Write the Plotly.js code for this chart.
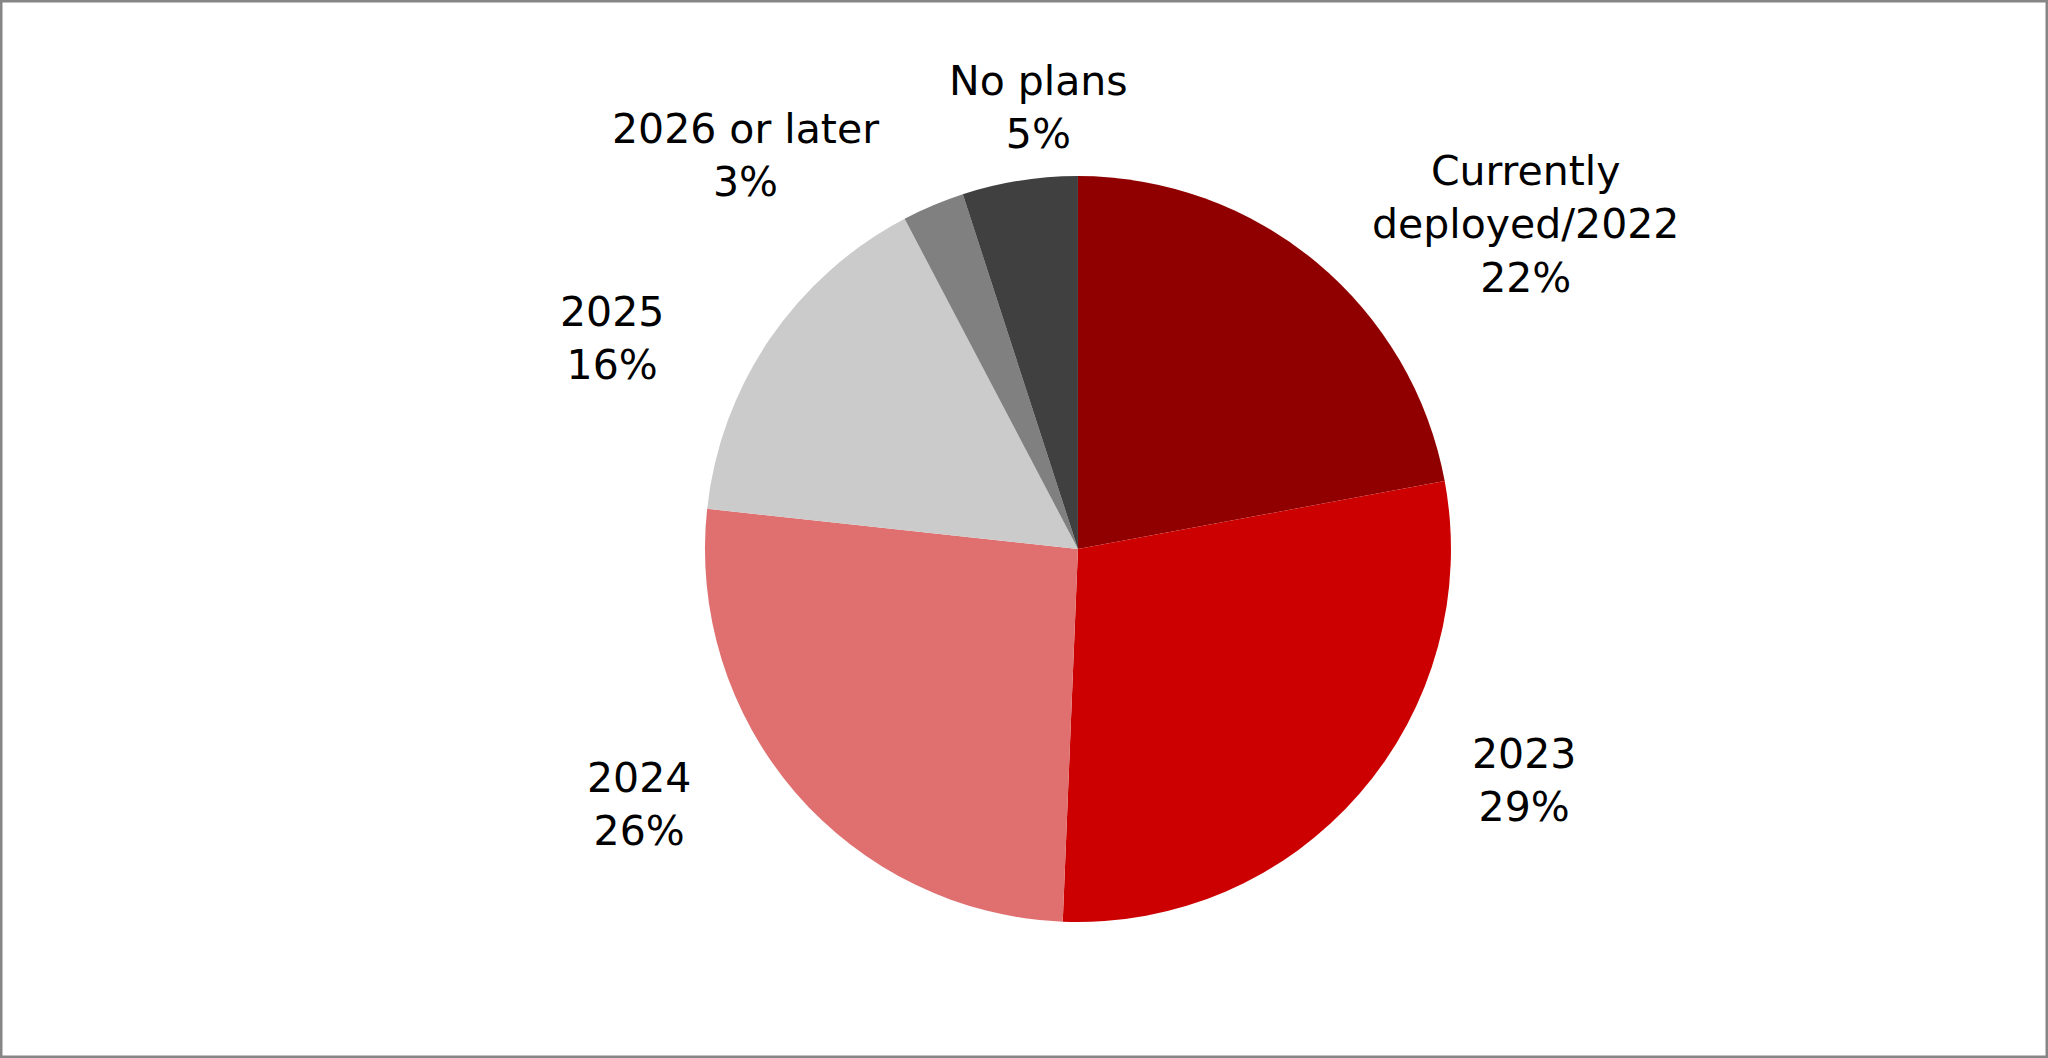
<!DOCTYPE html>
<html>
<head>
<meta charset="utf-8">
<script src="https://cdn.plot.ly/plotly-3.0.1.min.js"></script>
<style>
html,body{margin:0;padding:0;background:#fff;}
#chart{width:2048px;height:1058px;}
</style>
</head>
<body>
<div id="chart"></div>
<script>
var categories = ["Currently<br>deployed/2022", "2023", "2024", "2025", "2026 or later", "No plans"];
var shareValues = [22.1, 28.6, 26.1, 15.6, 2.7, 5.0];
var sliceColors = ["#900000", "#CC0000", "#E07070", "#CBCBCB", "#808080", "#404040"];

// label placement (paper coords) for each category, layout only
var labelPos = [
  [0.745, 0.788], [0.744, 0.262], [0.312, 0.240], [0.299, 0.680], [0.364, 0.853], [0.507, 0.898]
];

var total = shareValues.reduce(function(a,b){return a+b;},0);
var annotations = categories.map(function(c,i){
  return {
    xref:'paper', yref:'paper', x:labelPos[i][0], y:labelPos[i][1],
    text: c + '<br>' + Math.round(shareValues[i]/total*100) + '%',
    showarrow:false, xanchor:'center', yanchor:'middle', align:'center',
    font:{family:'DejaVu Sans, Verdana, sans-serif', size:41, color:'#000'}
  };
});

var trace = {
  type:'pie',
  labels: categories,
  values: shareValues,
  sort:false,
  direction:'clockwise',
  rotation:0,
  marker:{colors:sliceColors, line:{width:0}},
  textinfo:'none',
  hoverinfo:'label+percent',
  showlegend:false,
  domain:{x:[0.3442,0.7085], y:[0.1285,0.8336]}
};

var layout = {
  width:2048, height:1058,
  margin:{l:0,r:0,t:0,b:0},
  paper_bgcolor:'#ffffff',
  showlegend:false,
  annotations: annotations,
  shapes:[{type:'rect', xref:'paper', yref:'paper', x0:0, y0:0, x1:1, y1:1,
           line:{color:'#868686', width:5}, fillcolor:'rgba(0,0,0,0)'}]
};

Plotly.newPlot('chart', [trace], layout, {displayModeBar:false, staticPlot:true});
</script>
</body>
</html>
